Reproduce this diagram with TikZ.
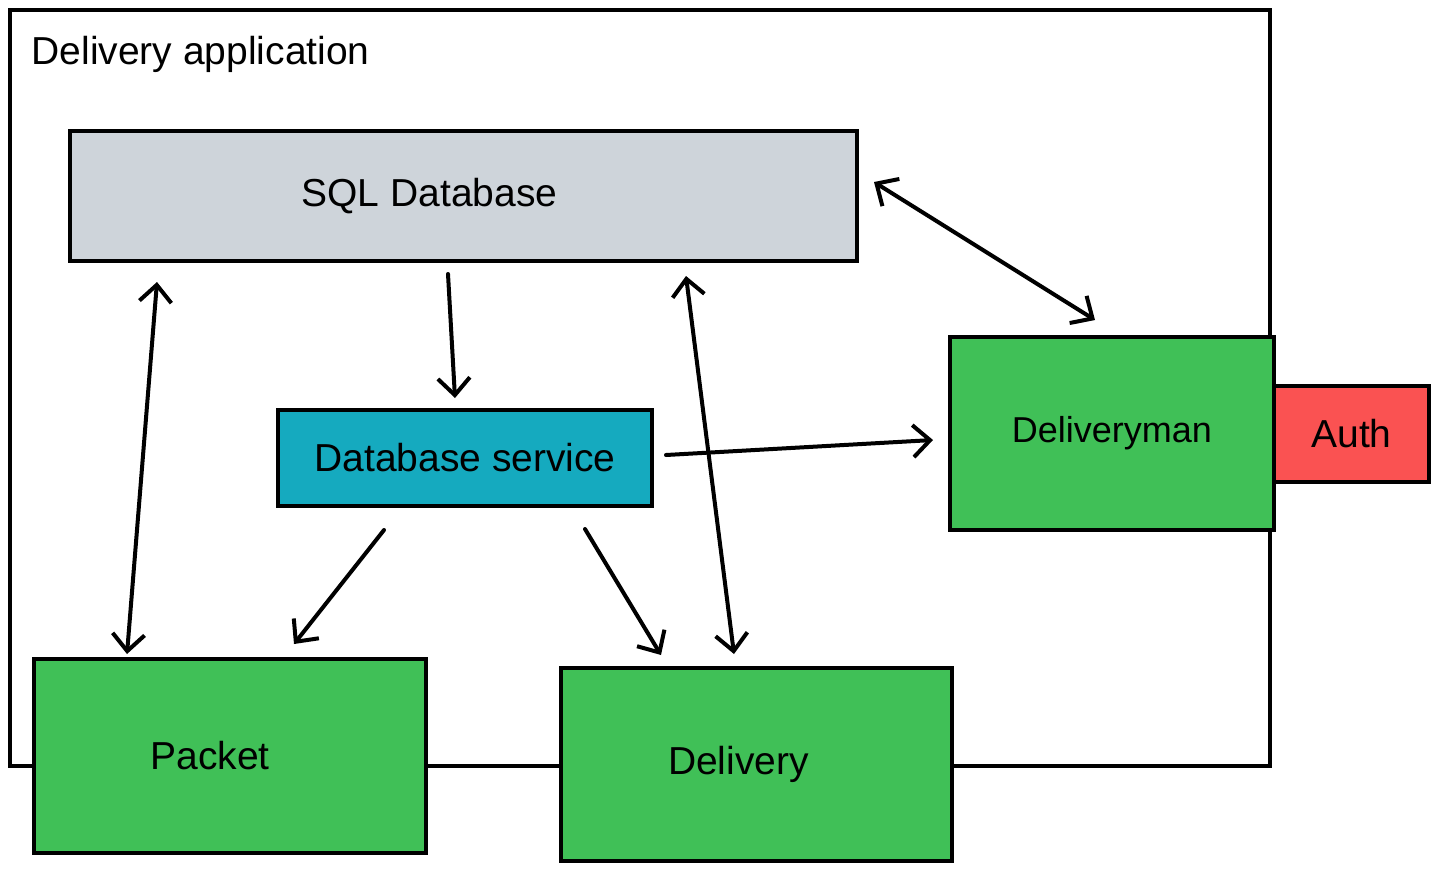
\documentclass[tikz,border=0pt]{standalone}
\usepackage{fontspec}
\setmainfont{Liberation Sans}
\usetikzlibrary{arrows.meta,calc}
\definecolor{sqlgray}{HTML}{CED4DA}
\definecolor{svccyan}{HTML}{15AABF}
\definecolor{boxgreen}{HTML}{40C057}
\definecolor{authred}{HTML}{FA5252}
\tikzset{
  box/.style={draw=black,line width=4pt,rectangle,inner sep=0pt,font=\fontsize{39}{44}\selectfont},
  tip/.tip={Straight Barb[length=17pt,width=32pt,line width=4pt]},
  arr/.style={line width=4pt,line cap=round,-tip},
  darr/.style={line width=4pt,line cap=round,tip-tip}
}
\begin{document}
\begin{tikzpicture}[x=1pt,y=-1pt]
\useasboundingbox (0,0) rectangle (1438,871);
\draw[line width=4pt] (10,10) rectangle (1270,766);
\node[anchor=base west,font=\fontsize{39}{44}\selectfont] (title) at (28,64) {Delivery application};
\node[box,fill=sqlgray,minimum width=787pt,minimum height=130pt] (sql) at (463.5,196) {SQL Database\hspace*{68pt}};
\node[box,fill=svccyan,minimum width=374pt,minimum height=96pt] (svc) at (465,458) {Database service};
\node[box,fill=boxgreen,minimum width=324pt,minimum height=193pt,font=\fontsize{36}{40}\selectfont] (dm) at (1112,433.5) {Deliveryman};
\node[box,fill=authred,minimum width=155pt,minimum height=96pt] (auth) at (1351.5,434) {Auth};
\node[box,fill=boxgreen,minimum width=392pt,minimum height=194pt] (packet) at (230,756) {Packet\hspace*{40pt}};
\node[box,fill=boxgreen,minimum width=391pt,minimum height=193pt] (delivery) at (756.5,764.5) {Delivery\hspace*{36pt}};
\draw[arr] ($(sql.south)+(-15.5,11)$) -- ($(svc.north)+(-10,-10)$);
\draw[darr] ($(sql.south)+(-306.5,19)$) -- ($(packet.north)+(-103,-3)$);
\draw[darr] ($(sql.south)+(222.5,13)$) -- ($(delivery.north)+(-22.5,-12)$);
\draw[darr] ($(sql.east)+(15,-14)$) -- ($(dm.north)+(-17,-15)$);
\draw[arr] ($(svc.east)+(12,-3)$) -- ($(dm.west)+(-15,6.5)$);
\draw[arr] ($(svc.south)+(-81,22)$) -- ($(packet.north)+(64,-13)$);
\draw[arr] ($(svc.south)+(120,21)$) -- ($(delivery.north)+(-95.5,-11)$);
\end{tikzpicture}
\end{document}
